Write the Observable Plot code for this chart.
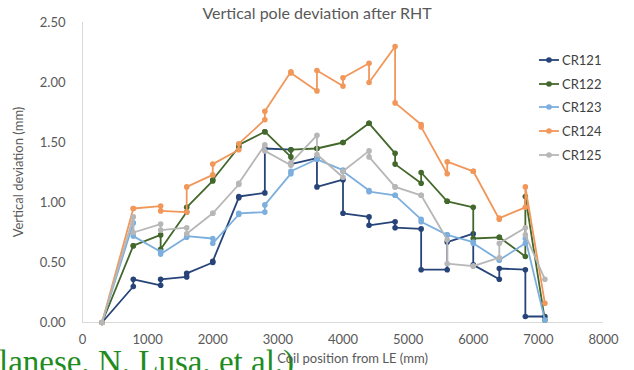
<!DOCTYPE html>
<html>
<head>
<meta charset="utf-8">
<script src="https://cdn.jsdelivr.net/npm/d3@7"></script>
<script src="https://cdn.jsdelivr.net/npm/@observablehq/plot@0.6"></script>
<style>
  html, body { margin: 0; padding: 0; background: #fff; overflow: hidden; }
  #wrap { position: relative; width: 634px; height: 370px; font-family: Lato, "Open Sans", sans-serif; color: #595959; }
  #chart { position: absolute; left: 0; top: 0; }
  #title { position: absolute; left: 0; width: 634px; top: 3px; text-align: center; font-size: 16px; color: #595959; }
  #xtitle { position: absolute; left: 0; width: 705px; top: 350px; text-align: center; font-size: 13px; color: #595959; }
  #ytitle { position: absolute; left: 18px; top: 172px; transform: translate(-50%, -50%) rotate(-90deg); white-space: nowrap; font-size: 13px; color: #595959; }
  #legend { position: absolute; left: 539px; top: 48px; }
  .item { display: flex; align-items: center; height: 23.7px; font-size: 13px; color: #404040; }
  .item svg { margin-right: 3px; }
  #cite { position: absolute; left: -1px; top: 353px; font-family: "Liberation Serif", "DejaVu Serif", serif; font-size: 33px; line-height: 0.6; color: #1e8c1e; white-space: nowrap; }
</style>
</head>
<body>
<div id="wrap">
  <div id="cite">lanese, N. Lusa, et al.)</div>
  <div id="chart"></div>
  <div id="title">Vertical pole deviation after RHT</div>
  <div id="xtitle">Coil position from LE (mm)</div>
  <div id="ytitle">Vertical deviation (mm)</div>
  <div id="legend"></div>
</div>
<script>
// Coil positions (mm) – each coil is measured twice (pairs), first and last single
const positions = [300, 780, 780, 1200, 1200, 1600, 1600, 2000, 2000, 2400, 2400, 2800, 2800,
  3200, 3200, 3600, 3600, 4000, 4000, 4400, 4400, 4800, 4800, 5200, 5200, 5600, 5600,
  6000, 6000, 6400, 6400, 6800, 6800, 7100];

const seriesNames = ["CR121", "CR122", "CR123", "CR124", "CR125"];
const seriesColors = ["#264478", "#43682B", "#7CAFDD", "#F1975A", "#B7B7B7"];

const cr121 = [0, 0.30, 0.36, 0.31, 0.36, 0.38, 0.41, 0.50, 0.51, 1.04, 1.05, 1.08, 1.45,
  1.44, 1.32, 1.37, 1.13, 1.19, 0.91, 0.88, 0.81, 0.84, 0.79, 0.78, 0.44, 0.44, 0.67,
  0.74, 0.48, 0.36, 0.45, 0.44, 0.05, 0.05];
const cr122 = [0, 0.64, 0.64, 0.73, 0.61, 0.92, 0.96, 1.18, 1.19, 1.46, 1.48, 1.59, 1.59,
  1.38, 1.44, 1.45, 1.45, 1.50, 1.50, 1.66, 1.66, 1.41, 1.32, 1.16, 1.25, 1.01, 1.01,
  0.96, 0.70, 0.71, 0.71, 0.55, 1.05, 0.02];
const cr123 = [0, 0.83, 0.72, 0.59, 0.57, 0.71, 0.72, 0.70, 0.66, 0.90, 0.91, 0.92, 0.98,
  1.24, 1.26, 1.36, 1.36, 1.27, 1.26, 1.10, 1.09, 1.06, 1.06, 0.86, 0.84, 0.73, 0.73,
  0.67, 0.66, 0.52, 0.52, 0.66, 0.70, 0.02];
const cr124 = [0, 0.95, 0.95, 0.97, 0.93, 0.92, 1.13, 1.23, 1.32, 1.44, 1.49, 1.69, 1.76,
  2.09, 2.08, 1.93, 2.10, 1.97, 2.04, 2.16, 2.00, 2.30, 1.83, 1.65, 1.63, 1.24, 1.34,
  1.26, 1.26, 0.86, 0.87, 0.96, 1.13, 0.16];
const cr125 = [0, 0.88, 0.75, 0.82, 0.77, 0.79, 0.74, 0.91, 0.91, 1.15, 1.16, 1.48, 1.43,
  1.31, 1.33, 1.56, 1.40, 1.21, 1.26, 1.43, 1.38, 1.13, 1.13, 1.06, 1.06, 0.69, 0.49,
  0.47, 0.47, 0.54, 0.66, 0.79, 0.73, 0.36];

const xTicks = [0, 1000, 2000, 3000, 4000, 5000, 6000, 7000, 8000];
const yTicks = [0, 0.5, 1.0, 1.5, 2.0, 2.5];

const allValues = [cr121, cr122, cr123, cr124, cr125];
const data = seriesNames.map((name, i) =>
  positions.map((x, j) => ({series: name, x, y: allValues[i][j], k: j})));

const seriesMarks = data.flatMap(d => [
  Plot.line(d, {x: "x", y: "y", stroke: "series", strokeWidth: 1.8, curve: "linear"}),
  Plot.dot(d, {x: "x", y: "y", fill: "series", r: 2.8, stroke: "none"})
]);

const chart = Plot.plot({
  width: 634,
  height: 370,
  marginLeft: 82,
  marginRight: 31,
  marginTop: 22,
  marginBottom: 48,
  style: {fontFamily: "Lato, 'Open Sans', sans-serif", fontSize: "13px", color: "#595959", background: "transparent"},
  x: {domain: [0, 8000]},
  y: {domain: [0, 2.5]},
  color: {domain: seriesNames, range: seriesColors},
  marks: [
    Plot.ruleX([0], {stroke: "#d9d9d9", strokeWidth: 1}),
    Plot.ruleY([0], {stroke: "#d9d9d9", strokeWidth: 1}),
    Plot.axisX({ticks: xTicks, tickSize: 0, tickPadding: 12, label: null, tickFormat: d3.format("d"), fill: "#595959"}),
    Plot.axisY({ticks: yTicks, tickSize: 0, tickPadding: 17, label: null, tickFormat: d3.format(".2f"), fill: "#595959"}),
    ...seriesMarks
  ]
});
document.getElementById("chart").appendChild(chart);

// legend
const legend = document.getElementById("legend");
seriesNames.forEach((name, i) => {
  const item = document.createElement("div");
  item.className = "item";
  item.innerHTML = `<svg width="20" height="8"><line x1="0" y1="4" x2="20" y2="4" stroke="${seriesColors[i]}" stroke-width="1.8"/><circle cx="10" cy="4" r="2.8" fill="${seriesColors[i]}"/></svg><span>${name}</span>`;
  legend.appendChild(item);
});
</script>
</body>
</html>
